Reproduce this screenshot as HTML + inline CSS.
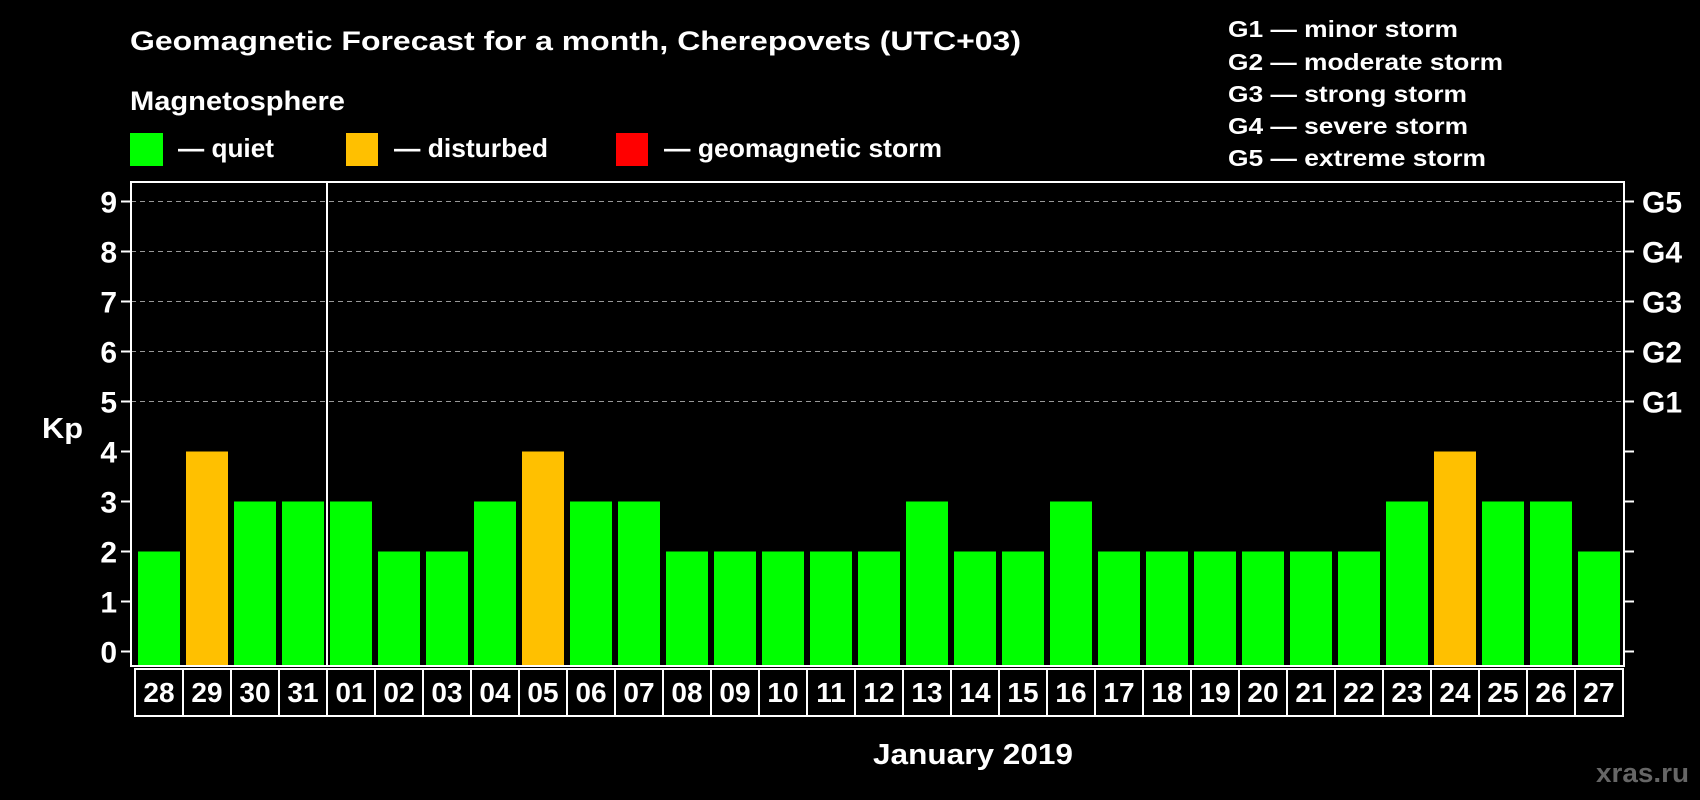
<!DOCTYPE html>
<html><head><meta charset="utf-8"><style>
html,body{margin:0;padding:0;background:#000;}
svg{display:block;font-family:"Liberation Sans",Arial,sans-serif;font-weight:bold;}
</style></head><body>
<svg id="chart" width="1700" height="800" viewBox="0 0 1700 800" xmlns="http://www.w3.org/2000/svg">
<rect x="0" y="0" width="1700" height="800" fill="#000"/>
<text x="130" y="50" font-size="27" fill="#fff" textLength="891" lengthAdjust="spacingAndGlyphs">Geomagnetic Forecast for a month, Cherepovets (UTC+03)</text>
<text x="130" y="110" font-size="27" fill="#fff" textLength="215" lengthAdjust="spacingAndGlyphs">Magnetosphere</text>
<g>
<rect x="130" y="133" width="33" height="33" fill="#00ff00"/>
<text x="178" y="157" font-size="26" fill="#fff" textLength="96" lengthAdjust="spacingAndGlyphs">— quiet</text>
</g>
<g>
<rect x="346" y="133" width="32" height="33" fill="#ffc000"/>
<text x="394" y="157" font-size="26" fill="#fff" textLength="154" lengthAdjust="spacingAndGlyphs">— disturbed</text>
</g>
<g>
<rect x="616" y="133" width="32" height="33" fill="#ff0000"/>
<text x="664" y="157" font-size="26" fill="#fff" textLength="278" lengthAdjust="spacingAndGlyphs">— geomagnetic storm</text>
</g>
<g>
<text x="1228" y="37" font-size="23" fill="#fff" textLength="230" lengthAdjust="spacingAndGlyphs">G1 — minor storm</text>
<text x="1228" y="70" font-size="23" fill="#fff" textLength="275" lengthAdjust="spacingAndGlyphs">G2 — moderate storm</text>
<text x="1228" y="102" font-size="23" fill="#fff" textLength="239" lengthAdjust="spacingAndGlyphs">G3 — strong storm</text>
<text x="1228" y="134" font-size="23" fill="#fff" textLength="240" lengthAdjust="spacingAndGlyphs">G4 — severe storm</text>
<text x="1228" y="166" font-size="23" fill="#fff" textLength="258" lengthAdjust="spacingAndGlyphs">G5 — extreme storm</text>
</g>
<text x="42" y="438" font-size="29" fill="#fff" textLength="41" lengthAdjust="spacingAndGlyphs">Kp</text>
<text x="873" y="764" font-size="29" fill="#fff" textLength="200" lengthAdjust="spacingAndGlyphs">January 2019</text>
<text x="1596" y="782" font-size="27" fill="#666" textLength="93" lengthAdjust="spacingAndGlyphs">xras.ru</text>
<g id="grid"></g>
<g id="bars"></g>
<g id="axes"></g>
</svg>
<script>
const days = ["28","29","30","31","01","02","03","04","05","06","07","08","09","10","11","12","13","14","15","16","17","18","19","20","21","22","23","24","25","26","27"];
const kpValues = [2,4,3,3,3,2,2,3,4,3,3,2,2,2,2,2,3,2,2,3,2,2,2,2,2,2,3,4,3,3,2];
const yTicks = [0,1,2,3,4,5,6,7,8,9];
const gLabels = ["G1","G2","G3","G4","G5"];
const gLevels = [5,6,7,8,9];
const monthBreakIndex = 4;

const NS = "http://www.w3.org/2000/svg";
const plotL = 131, plotR = 1624, plotT = 182, plotB = 666;
const slotStart = 135, slotW = 48;
function yScale(v){ return 651.5 - v * 50; }
function xSlot(i){ return slotStart + i * slotW; }
function mk(tag, attrs, parent){ const e = document.createElementNS(NS, tag); for (const k in attrs) e.setAttribute(k, attrs[k]); parent.appendChild(e); return e; }
function colorFor(v){ return v >= 5 ? "#ff0000" : (v >= 4 ? "#ffc000" : "#00ff00"); }

const grid = document.getElementById("grid");
const bars = document.getElementById("bars");
const axes = document.getElementById("axes");

gLevels.forEach((lv) => {
  const l = mk("line", {x1: plotL, x2: plotR, y1: yScale(lv), y2: yScale(lv), stroke: "#999", "stroke-width": 1, "stroke-dasharray": "5,4"}, grid);
  
  
});

kpValues.forEach((v, i) => {
  const r = mk("rect", {x: xSlot(i) + 3, y: yScale(v), width: 42, height: plotB - yScale(v), fill: colorFor(v)}, bars);
  
  
});

const frame = mk("rect", {x: plotL, y: plotT, width: plotR - plotL, height: plotB - plotT, fill: "none", stroke: "#fff", "stroke-width": 2}, axes);



const brk = mk("line", {x1: xSlot(monthBreakIndex), x2: xSlot(monthBreakIndex), y1: plotT, y2: plotB, stroke: "#fff", "stroke-width": 2}, axes);



yTicks.forEach((t) => {
  const y = yScale(t);
  const tl = mk("line", {x1: 121, x2: plotL, y1: y, y2: y, stroke: "#fff", "stroke-width": 2}, axes);
  
  
  const tr = mk("line", {x1: plotR, x2: 1634, y1: y, y2: y, stroke: "#fff", "stroke-width": 2}, axes);
  
  
  const tx = mk("text", {x: 117, y: y + 11, "font-size": 30, fill: "#fff", "text-anchor": "end"}, axes);
  tx.textContent = String(t);
  
  
});

gLabels.forEach((g, i) => {
  const tx = mk("text", {x: 1642, y: yScale(gLevels[i]) + 11, "font-size": 30, fill: "#fff"}, axes);
  tx.textContent = g;
  
  
});

days.forEach((d, i) => {
  const b = mk("rect", {x: xSlot(i), y: 669, width: slotW, height: 47, fill: "none", stroke: "#fff", "stroke-width": 2}, axes);
  
  
  const tx = mk("text", {x: xSlot(i) + slotW / 2, y: 702, "font-size": 28, fill: "#fff", "text-anchor": "middle"}, axes);
  tx.textContent = d;
  
  
});
</script>
</body></html>
